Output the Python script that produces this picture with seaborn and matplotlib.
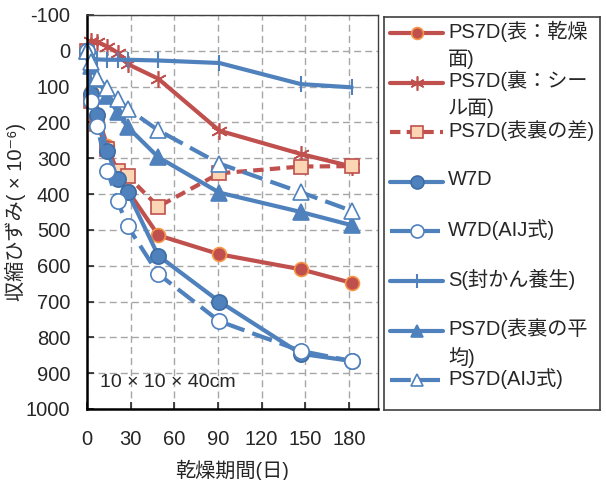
import numpy as np
import matplotlib
matplotlib.use("Agg")
from matplotlib import pyplot as plt
import seaborn as sns

# drying period (days)
days = [0, 3, 7, 14, 21, 28, 49, 91, 147, 182]

# shrinkage strain (x10^-6)
ps7d_front = [0, 115, 180, 265, 340, 390, 515, 568, 610, 648]
ps7d_back = [0, -28, -25, -12, 5, 37, 78, 223, 288, 323]
ps7d_diff = [0, 140, 205, 275, 335, 350, 435, 342, 323, 322]
w7d = [0, 120, 180, 280, 358, 395, 572, 700, 846, 866]
w7d_aij = [0, 140, 210, 335, 420, 490, 623, 755, 838, 866]
s_sealed = [0, 20, 24, 25, 25, 25, 27, 34, 93, 102]
ps7d_mean = [0, 43, 78, 127, 172, 213, 297, 396, 450, 487]
ps7d_aij = [0, 30, 75, 105, 134, 162, 222, 315, 395, 447]

labels = ["PS7D(表：乾燥\n面)", "PS7D(裏：シー\nル面)", "PS7D(表裏の差)", "W7D",
          "W7D(AIJ式)", "S(封かん養生)", "PS7D(表裏の平\n均)", "PS7D(AIJ式)"]
x_ticks = [0, 30, 60, 90, 120, 150, 180]
y_ticks = list(range(-100, 1001, 100))

red = "#C0504D"
blue = "#4F81BD"
styles = [
    dict(color=red, marker="o", ms=10, mfc=red, mec="#F79646", mew=1.2, ls="-"),
    dict(color=red, marker=(6, 2, 0), ms=12, mfc=red, mec=red, mew=1.2, ls="-"),
    dict(color=red, marker="s", ms=10, mfc="#FCD5B5", mec=red, mew=1.2, ls=(0, (2.5, 1.5))),
    dict(color=blue, marker="o", ms=11, mfc=blue, mec="#3E6DA6", mew=1.2, ls="-"),
    dict(color=blue, marker="o", ms=11, mfc="white", mec=blue, mew=1.2, ls=(0, (5, 2))),
    dict(color=blue, marker="|", ms=12, mfc=blue, mec=blue, mew=1.5, ls="-"),
    dict(color=blue, marker="^", ms=11, mfc=blue, mec=blue, mew=1.2, ls="-"),
    dict(color=blue, marker="^", ms=11, mfc="white", mec=blue, mew=1.2, ls=(0, (5, 2))),
]
series = [ps7d_front, ps7d_back, ps7d_diff, w7d, w7d_aij, s_sealed, ps7d_mean, ps7d_aij]

sns.set_style("white")
plt.rcParams["font.family"] = ["Liberation Sans", "Noto Sans CJK JP", "DejaVu Sans"]
plt.rcParams["axes.unicode_minus"] = False

fig = plt.figure(figsize=(6.06, 4.8), dpi=100)
ax = fig.add_axes([87 / 606, 1 - 409 / 480, 291 / 606, 394 / 480])

for vals, st in zip(series, styles):
    sns.lineplot(x=days, y=vals, ax=ax, color=st["color"], linestyle=st["ls"], linewidth=3,
                 marker=st["marker"], markersize=st["ms"], markerfacecolor=st["mfc"],
                 markeredgecolor=st["mec"], markeredgewidth=st["mew"], sort=False,
                 estimator=None, clip_on=False)

ax.set_xlim(0, 200)
ax.set_ylim(1000, -100)
ax.set_xticks(x_ticks)
ax.set_yticks(y_ticks)
ax.tick_params(axis="both", direction="in", length=5, width=1.2, labelsize=14.5,
               left=True, bottom=True)
ax.tick_params(axis="x", pad=15)
ax.tick_params(axis="y", pad=12)
ax.grid(True, color="#A6A6A6", linestyle=(0, (5, 3)), linewidth=1)
for side in ["left", "bottom"]:
    ax.spines[side].set_linewidth(1.8)
    ax.spines[side].set_color("black")
for side in ["top", "right"]:
    ax.spines[side].set_linewidth(1)
    ax.spines[side].set_color("#404040")
ax.set_xlabel("乾燥期間(日)", fontsize=14.5, labelpad=8)
ax.set_ylabel("収縮ひずみ( × 10⁻⁶)", fontsize=14.5, labelpad=0)
ax.text(0.045, 0.066, "10 × 10 × 40cm", transform=ax.transAxes, fontsize=14, va="center")

# legend box drawn in its own axes (pixel-like units)
lax = fig.add_axes([384 / 606, 1 - 410 / 480, 216 / 606, 393 / 480])
lax.set_xlim(0, 216)
lax.set_ylim(393, 0)
lax.set_xticks([])
lax.set_yticks([])
for sp in lax.spines.values():
    sp.set_linewidth(1.2)
    sp.set_color("#404040")
for i, (lab, st) in enumerate(zip(labels, styles)):
    yc = 16 + 49.6 * i
    lax.plot([6, 59], [yc, yc], color=st["color"], linestyle=st["ls"], linewidth=3)
    lax.plot([32.5], [yc], linestyle="none", marker=st["marker"], markersize=st["ms"] * 0.85,
             markerfacecolor=st["mfc"], markeredgecolor=st["mec"], markeredgewidth=st["mew"])
    lax.text(64, yc - 12, lab, fontsize=14.5, va="top", ha="left", linespacing=1.45)

fig.savefig("out.png", dpi=100)
